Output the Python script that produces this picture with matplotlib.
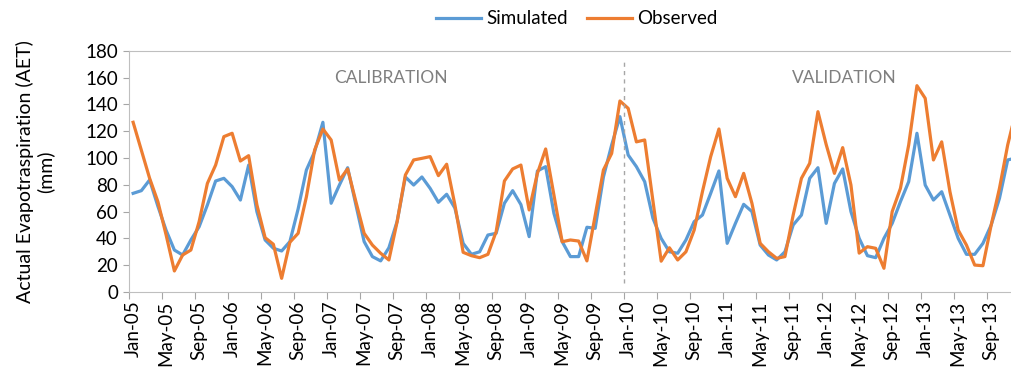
import matplotlib
matplotlib.use('Agg')
import matplotlib.pyplot as plt
import numpy as np

plt.rcParams['font.family'] = ['Lato', 'DejaVu Sans']

# monthly AET (mm), Jan-05 .. Dec-13
simulated = [
    73.6, 75.6, 83.6, 64, 46, 31.3, 27.6, 38.8, 48.7, 64.9, 82.8, 84.8,
    78.6, 68.6, 94.7, 59.9, 38.8, 32.6, 30.6, 37.6, 62, 91, 104.7, 126.6,
    66.2, 79.8, 92.7, 65, 37.6, 26.4, 23.2, 33, 52.7, 85.8, 79.8, 85.8,
    77.3, 66.9, 72.9, 62.6, 36.3, 28.1, 30, 42.5, 43.8, 66.2, 75.6, 65.2,
    41.3, 90.3, 93.5, 58.7, 37.6, 26.4, 26.4, 48.3, 47.5, 85.8, 109.7, 130.8,
    102.2, 93.5, 82.3, 55, 40, 30, 28.9, 38.8, 52.5, 57.4, 73.6, 90.3,
    36.3, 51.2, 65.4, 60, 35, 27.6, 23.9, 30, 50, 57.4, 84.8, 92.7,
    51.2, 81, 91.8, 60, 40, 27.1, 25.6, 40, 51.2, 67.4, 82.3, 118.4,
    79.8, 68.6, 74.8, 57.4, 40, 28.1, 28.1, 36.3, 50, 69.8, 98.5, 100,
]
observed = [
    126.6, 105.7, 84.8, 67.4, 42.5, 15.7, 27.6, 31.3, 52.5, 81, 94.7, 115.9,
    118.4, 97.7, 101.7, 65, 40.5, 35.6, 10.2, 37.1, 43.8, 71, 106, 121.6,
    113.4, 83.5, 91.8, 67.4, 43.8, 35, 28.9, 23.9, 52.5, 87.3, 98.5, 99.7,
    101, 86.8, 95.3, 65, 29.6, 27.1, 25.6, 28.1, 45, 82.8, 91.8, 94.7,
    61.2, 88.5, 106.7, 72.4, 37.5, 38.8, 38, 23.2, 57, 91, 103.4, 142.5,
    137, 112, 113.4, 68, 23, 33, 23.9, 30, 46.2, 74.8, 101, 121.6,
    84.8, 71.1, 88.5, 66.2, 36.3, 30, 25.1, 26.4, 57.4, 84.8, 96, 134.5,
    110, 88.5, 107.7, 79.8, 29, 33.8, 32.6, 17.7, 60, 77.3, 109.7, 153.9,
    144.5, 98.5, 112, 74.8, 46.2, 35, 20.1, 19.6, 50, 77.3, 109.7, 135,
]
months = ['Jan', 'Feb', 'Mar', 'Apr', 'May', 'Jun', 'Jul', 'Aug', 'Sep', 'Oct', 'Nov', 'Dec']
years = list(range(5, 14))
labels = ['%s-%02d' % (m, y) for y in years for m in months]
split_index = 60  # Jan-10, start of validation

x = np.arange(len(observed))

fig = plt.figure(figsize=(10.11, 3.76), dpi=100)
ax = fig.add_axes([129 / 1011, 84 / 376, 1 - 129 / 1011, (292 - 50.7) / 376])

ax.plot(x, simulated, color='#5B9BD5', lw=2.3, label='Simulated', solid_joinstyle='round')
ax.plot(x, observed, color='#ED7D31', lw=2.3, label='Observed', solid_joinstyle='round')

ax.plot([split_index - 0.5, split_index - 0.5], [6.5, 174], color='#a6a6a6', lw=1, ls=(0, (3, 3)))

ax.set_xlim(-0.5, 106.4)
ax.set_ylim(0, 180)
ax.set_yticks(range(0, 181, 20))
ax.tick_params(axis='y', labelsize=13.5, length=4, color='#a6a6a6', pad=4)

ax.set_xticks(np.arange(-0.5, 107, 4))
ax.set_xticklabels([])
ax.set_xticks(x[::4], minor=True)
ax.set_xticklabels(labels[::4], minor=True, rotation=90, fontsize=13.5)
ax.tick_params(axis='x', which='major', length=5, color='#a6a6a6')
ax.tick_params(axis='x', which='minor', length=0, pad=6)

for s in ['left', 'bottom', 'top']:
    ax.spines[s].set_color('#bfbfbf')
ax.spines['right'].set_visible(False)

ax.set_ylabel('Actual Evapotraspiration (AET)\n(mm)', fontsize=14, linespacing=1.2, labelpad=22)

ax.text(31.3, 160, 'CALIBRATION', color='#7f7f7f', fontsize=12.5, ha='center', va='center')
ax.text(86.2, 160, 'VALIDATION', color='#7f7f7f', fontsize=12.5, ha='center', va='center')

fig.legend(loc='center', bbox_to_anchor=(577 / 1011, 1 - 19 / 376), ncol=2, frameon=False,
           fontsize=13.5, handlelength=2.4, handletextpad=0.3, columnspacing=1.0)

fig.savefig('out.png', dpi=100)
